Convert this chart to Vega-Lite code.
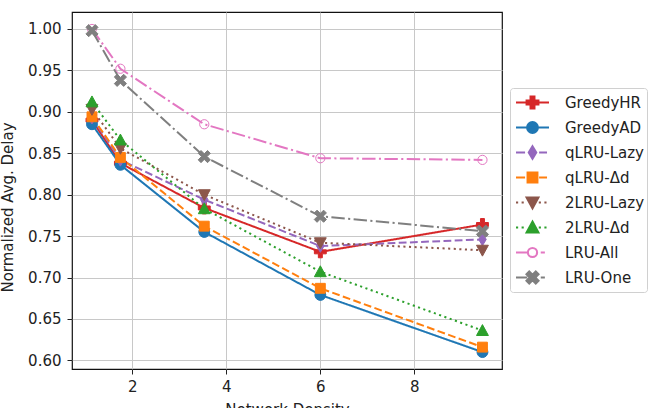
{
  "$schema": "https://vega.github.io/schema/vega-lite/v6.json",
  "width": 430,
  "height": 357,
  "autosize": {"type": "none"},
  "padding": {"left": 72, "top": 12, "right": 158, "bottom": 39},
  "background": "white",
  "config": {
    "font": "DejaVu Sans",
    "view": {"stroke": "#111111", "strokeWidth": 1.2},
    "axis": {
      "labelFont": "DejaVu Sans",
      "labelFontSize": 15,
      "labelColor": "#222222",
      "titleFont": "DejaVu Sans",
      "titleFontSize": 15,
      "titleFontWeight": "normal",
      "titleColor": "#222222",
      "tickColor": "#222222",
      "tickSize": 5,
      "tickWidth": 1,
      "domain": false,
      "gridColor": "#c8c8c8",
      "gridWidth": 1
    },
    "legend": {
      "orient": "none",
      "legendX": 438,
      "legendY": 76,
      "padding": 2,
      "symbolOffset": 3,
      "labelOffset": 15,
      "clipHeight": 25,
      "rowPadding": 0,
      "symbolSize": 1089,
      "symbolStrokeWidth": 2,
      "symbolOpacity": 1,
      "labelFont": "DejaVu Sans",
      "labelFontSize": 15,
      "labelColor": "#222222",
      "labelLimit": 200,
      "strokeColor": "#d0d0d0",
      "fillColor": "white",
      "cornerRadius": 3
    }
  },
  "data": {
    "values": [
      {"series": "GreedyHR", "density": 1.14, "delay": 0.890},
      {"series": "GreedyHR", "density": 1.745, "delay": 0.838},
      {"series": "GreedyHR", "density": 3.53, "delay": 0.784},
      {"series": "GreedyHR", "density": 6.0, "delay": 0.731},
      {"series": "GreedyHR", "density": 9.45, "delay": 0.764},
      {"series": "GreedyAD", "density": 1.14, "delay": 0.885},
      {"series": "GreedyAD", "density": 1.745, "delay": 0.836},
      {"series": "GreedyAD", "density": 3.53, "delay": 0.755},
      {"series": "GreedyAD", "density": 6.0, "delay": 0.679},
      {"series": "GreedyAD", "density": 9.45, "delay": 0.610},
      {"series": "qLRU-Lazy", "density": 1.14, "delay": 0.893},
      {"series": "qLRU-Lazy", "density": 1.745, "delay": 0.842},
      {"series": "qLRU-Lazy", "density": 3.53, "delay": 0.794},
      {"series": "qLRU-Lazy", "density": 6.0, "delay": 0.738},
      {"series": "qLRU-Lazy", "density": 9.45, "delay": 0.746},
      {"series": "qLRU-Δd", "density": 1.14, "delay": 0.894},
      {"series": "qLRU-Δd", "density": 1.745, "delay": 0.845},
      {"series": "qLRU-Δd", "density": 3.53, "delay": 0.762},
      {"series": "qLRU-Δd", "density": 6.0, "delay": 0.687},
      {"series": "qLRU-Δd", "density": 9.45, "delay": 0.616},
      {"series": "2LRU-Lazy", "density": 1.14, "delay": 0.903},
      {"series": "2LRU-Lazy", "density": 1.745, "delay": 0.856},
      {"series": "2LRU-Lazy", "density": 3.53, "delay": 0.800},
      {"series": "2LRU-Lazy", "density": 6.0, "delay": 0.742},
      {"series": "2LRU-Lazy", "density": 9.45, "delay": 0.733},
      {"series": "2LRU-Δd", "density": 1.14, "delay": 0.912},
      {"series": "2LRU-Δd", "density": 1.745, "delay": 0.866},
      {"series": "2LRU-Δd", "density": 3.53, "delay": 0.783},
      {"series": "2LRU-Δd", "density": 6.0, "delay": 0.707},
      {"series": "2LRU-Δd", "density": 9.45, "delay": 0.636},
      {"series": "LRU-All", "density": 1.14, "delay": 1.000},
      {"series": "LRU-All", "density": 1.745, "delay": 0.952},
      {"series": "LRU-All", "density": 3.53, "delay": 0.885},
      {"series": "LRU-All", "density": 6.0, "delay": 0.844},
      {"series": "LRU-All", "density": 9.45, "delay": 0.842},
      {"series": "LRU-One", "density": 1.14, "delay": 0.998},
      {"series": "LRU-One", "density": 1.745, "delay": 0.938},
      {"series": "LRU-One", "density": 3.53, "delay": 0.846},
      {"series": "LRU-One", "density": 6.0, "delay": 0.774},
      {"series": "LRU-One", "density": 9.45, "delay": 0.756}
    ]
  },
  "encoding": {
    "x": {
      "field": "density",
      "type": "quantitative",
      "scale": {"domain": [0.715, 9.866], "nice": false, "zero": false},
      "axis": {
        "title": "Network Density",
        "values": [2, 4, 6, 8],
        "labelPadding": 5,
        "titleY": 33,
        "titleBaseline": "top"
      }
    },
    "y": {
      "field": "delay",
      "type": "quantitative",
      "scale": {"domain": [0.5896, 1.0205], "nice": false, "zero": false},
      "axis": {
        "title": "Normalized Avg. Delay",
        "values": [0.6, 0.65, 0.7, 0.75, 0.8, 0.85, 0.9, 0.95, 1.0],
        "format": ".2f",
        "labelPadding": 6,
        "titleX": -57,
        "titleY": 195,
        "titleAngle": -90,
        "titleBaseline": "bottom"
      }
    }
  },
  "layer": [
    {
      "mark": {"type": "line", "strokeWidth": 2, "strokeCap": "butt"},
      "encoding": {
        "stroke": {
          "field": "series",
          "type": "nominal",
          "scale": {
            "domain": ["GreedyHR", "GreedyAD", "qLRU-Lazy", "qLRU-Δd", "2LRU-Lazy", "2LRU-Δd", "LRU-All", "LRU-One"],
            "range": ["#d62728", "#1f77b4", "#9467bd", "#ff7f0e", "#8c564b", "#2ca02c", "#e377c2", "#7f7f7f"]
          },
          "legend": null
        },
        "strokeDash": {
          "field": "series",
          "type": "nominal",
          "scale": {
            "domain": ["GreedyHR", "GreedyAD", "qLRU-Lazy", "qLRU-Δd", "2LRU-Lazy", "2LRU-Δd", "LRU-All", "LRU-One"],
            "range": [[1, 0], [1, 0], [7.8, 3.4], [7.8, 3.4], [2.1, 3.5], [2.1, 3.5], [13.4, 3.4, 2.1, 3.4], [13.4, 3.4, 2.1, 3.4]]
          },
          "legend": null
        }
      }
    },
    {
      "mark": {"type": "point", "size": 1089, "strokeWidth": 1, "opacity": 1},
      "encoding": {
        "stroke": {"field": "series", "type": "nominal", "legend": null},
        "fill": {
          "field": "series",
          "type": "nominal",
          "scale": {
            "domain": ["GreedyHR", "GreedyAD", "qLRU-Lazy", "qLRU-Δd", "2LRU-Lazy", "2LRU-Δd", "LRU-All", "LRU-One"],
            "range": ["#d62728", "#1f77b4", "#9467bd", "#ff7f0e", "#8c564b", "#2ca02c", "transparent", "#7f7f7f"]
          },
          "legend": null
        },
        "shape": {
          "field": "series",
          "type": "nominal",
          "scale": {
            "domain": ["GreedyHR", "GreedyAD", "qLRU-Lazy", "qLRU-Δd", "2LRU-Lazy", "2LRU-Δd", "LRU-All", "LRU-One"],
            "range": [
              "M-0.12,-0.36H0.12V-0.12H0.36V0.12H0.12V0.36H-0.12V0.12H-0.36V-0.12H-0.12Z",
              "M-0.33,0A0.33,0.33 0 1,1 0.33,0A0.33,0.33 0 1,1 -0.33,0Z",
              "M0,-0.38L0.23,0L0,0.38L-0.23,0Z",
              "M-0.3,-0.3H0.3V0.3H-0.3Z",
              "M-0.36,-0.3H0.36L0,0.36Z",
              "M0,-0.36L0.36,0.3H-0.36Z",
              "M-0.28,0A0.28,0.28 0 1,1 0.28,0A0.28,0.28 0 1,1 -0.28,0Z",
              "M0.198,-0.368L0.368,-0.198L0.17,0L0.368,0.198L0.198,0.368L0,0.17L-0.198,0.368L-0.368,0.198L-0.17,0L-0.368,-0.198L-0.198,-0.368L0,-0.17Z"
            ]
          },
          "legend": null
        }
      }
    },
    {
      "transform": [{"filter": "false"}],
      "mark": {"type": "point", "size": 1089, "strokeWidth": 2, "opacity": 1},
      "encoding": {
        "stroke": {"field": "series", "type": "nominal", "title": null},
        "fill": {"field": "series", "type": "nominal", "title": null},
        "shape": {
          "field": "series",
          "type": "nominal",
          "title": null,
          "scale": {
            "domain": ["GreedyHR", "GreedyAD", "qLRU-Lazy", "qLRU-Δd", "2LRU-Lazy", "2LRU-Δd", "LRU-All", "LRU-One"],
            "range": [
              "M-1,0H1M-0.12,-0.36H0.12V-0.12H0.36V0.12H0.12V0.36H-0.12V0.12H-0.36V-0.12H-0.12Z",
              "M-1,0H1M-0.33,0A0.33,0.33 0 1,1 0.33,0A0.33,0.33 0 1,1 -0.33,0Z",
              "M-1,0H-0.45M0.4,0H0.88M0,-0.38L0.23,0L0,0.38L-0.23,0Z",
              "M-1,0H-0.45M0.4,0H0.88M-0.3,-0.3H0.3V0.3H-0.3Z",
              "M-1,0H-0.87M-0.66,0H-0.53M0.38,0H0.51M0.72,0H0.85M-0.36,-0.3H0.36L0,0.36Z",
              "M-1,0H-0.87M-0.66,0H-0.53M0.38,0H0.51M0.72,0H0.85M0,-0.36L0.36,0.3H-0.36Z",
              "M-1,0H-0.32M0.5,0H0.75M-0.28,0A0.28,0.28 0 1,1 0.28,0A0.28,0.28 0 1,1 -0.28,0Z",
              "M-1,0H-0.32M0.5,0H0.75M0.198,-0.368L0.368,-0.198L0.17,0L0.368,0.198L0.198,0.368L0,0.17L-0.198,0.368L-0.368,0.198L-0.17,0L-0.368,-0.198L-0.198,-0.368L0,-0.17Z"
            ]
          }
        }
      }
    }
  ],
  "resolve": {
    "scale": {"shape": "independent"},
    "legend": {"shape": "independent", "fill": "independent", "stroke": "independent"}
  }
}
